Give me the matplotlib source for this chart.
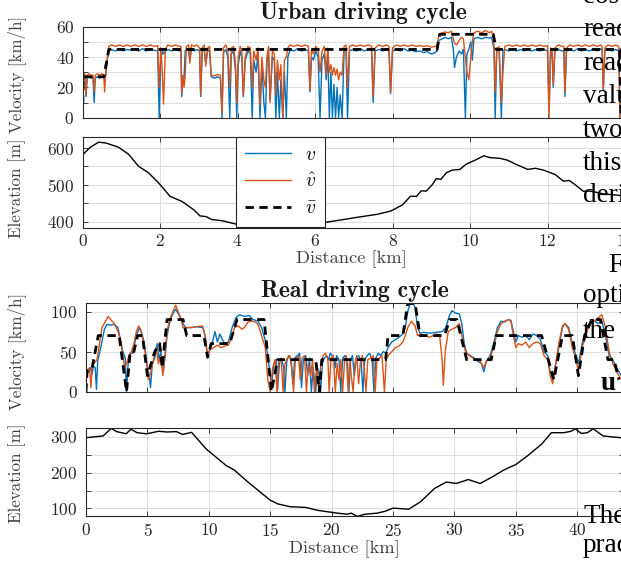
import numpy as np
import matplotlib
matplotlib.use("Agg")
import matplotlib.pyplot as plt
from matplotlib.ticker import MultipleLocator

plt.rcParams['font.family'] = ['cmr10']
plt.rcParams['mathtext.fontset'] = 'cm'
plt.rcParams['axes.formatter.use_mathtext'] = True

# ---------------- urban cycle ----------------
urban_km = [
    0.00, 0.02, 0.06, 0.09, 0.12, 0.17, 0.22, 0.27, 0.30, 0.33,
    0.38, 0.44, 0.50, 0.55, 0.57, 0.60, 0.64, 0.68, 0.75, 0.85,
    0.95, 1.05, 1.15, 1.25, 1.35, 1.45, 1.55, 1.65, 1.75, 1.85,
    1.94, 1.98, 2.02, 2.06, 2.09, 2.14, 2.20, 2.30, 2.40, 2.50,
    2.54, 2.56, 2.59, 2.62, 2.65, 2.68, 2.74, 2.77, 2.81, 2.88,
    2.95, 3.02, 3.05, 3.09, 3.14, 3.18, 3.23, 3.28, 3.32, 3.40,
    3.48, 3.56, 3.60, 3.64, 3.70, 3.75, 3.80, 3.84, 3.90, 3.95,
    3.98, 4.02, 4.07, 4.11, 4.15, 4.20, 4.27, 4.33, 4.38, 4.42,
    4.48, 4.53, 4.58, 4.63, 4.68, 4.72, 4.76, 4.80, 4.84, 4.90,
    4.95, 4.99, 5.03, 5.08, 5.12, 5.17, 5.21, 5.26, 5.30, 5.36,
    5.45, 5.55, 5.65, 5.75, 5.83, 5.87, 5.91, 5.96, 6.02, 6.08,
    6.13, 6.18, 6.24, 6.29, 6.33, 6.37, 6.41, 6.45, 6.49, 6.53,
    6.57, 6.61, 6.65, 6.70, 6.75, 6.80, 6.84, 6.89, 6.97, 7.07,
    7.17, 7.27, 7.37, 7.46, 7.50, 7.55, 7.65, 7.75, 7.85, 7.91,
    7.95, 8.00, 8.10, 8.20, 8.30, 8.40, 8.50, 8.60, 8.70, 8.80,
    8.90, 9.00, 9.10, 9.15, 9.20, 9.28, 9.36, 9.44, 9.52, 9.57,
    9.60, 9.65, 9.72, 9.78, 9.83, 9.88, 9.92, 9.97, 10.02, 10.06,
    10.10, 10.20, 10.30, 10.40, 10.50, 10.56, 10.62, 10.65, 10.69, 10.75,
    10.81, 10.85, 10.90, 11.00, 11.10, 11.20, 11.30, 11.40, 11.50, 11.60,
    11.70, 11.80, 11.90, 12.00, 12.04, 12.08, 12.12, 12.15, 12.19, 12.28,
    12.38, 12.42, 12.45, 12.49, 12.58, 12.68, 12.78, 12.88, 12.98, 13.08,
    13.18, 13.28, 13.38, 13.41, 13.44, 13.48, 13.56, 13.66, 13.76, 13.84,
    13.87,
]
urban_v = [
    0, 26, 27, 14, 26, 27, 26, 27, 10, 26,
    27, 26, 27, 26, 26, 28, 38, 44, 45, 44,
    45.5, 44, 45, 44.5, 45, 44, 45.5, 44, 45, 44.5,
    44, 0, 38, 44, 42, 44, 45, 44, 45.5, 44,
    44.5, 14, 27, 26, 44, 45, 44, 38, 45, 44,
    45, 44, 14, 44, 45, 36, 44, 44, 27, 26,
    27, 26, 0, 43, 45, 40, 0, 42, 44, 30,
    0, 35, 44, 40, 14, 38, 44, 42, 0, 38,
    30, 42, 0, 36, 10, 0, 36, 44, 12, 40,
    38, 0, 30, 0, 25, 0, 30, 0, 40, 45,
    44, 45.5, 44, 45, 44, 17, 40, 38, 44, 40,
    0, 38, 42, 25, 44, 0, 30, 0, 22, 0,
    20, 0, 15, 0, 44, 45, 0, 44, 45, 44,
    45.5, 44, 45, 44.5, 10, 44, 45, 44, 45, 44,
    16, 44, 45, 44, 45.5, 44, 44.5, 43.5, 44, 43,
    43.5, 42, 43, 44, 51, 52, 53, 52, 53, 45,
    33, 40, 44, 42, 45, 0, 42, 45, 50, 38,
    52, 53, 52, 53, 52.5, 53, 45, 0, 44, 45,
    0, 44, 45, 44, 45.5, 44, 45, 44, 45.5, 44,
    45, 44, 45, 44, 5, 44, 40, 20, 44, 45,
    44, 44, 14, 44, 45, 44, 45.5, 44, 45, 44,
    45, 44, 45.5, 44, 18, 44, 45, 44, 45, 44,
    0,
]
urban_vhat = [
    0, 28, 29, 15, 28, 29, 28, 28, 17, 28,
    29, 28, 29, 28, 17, 29, 40, 47, 48, 47,
    48, 47, 48, 47, 48, 47, 48, 47, 48, 47,
    47.5, 20, 46, 30, 9, 45, 48, 47, 48, 47,
    47, 16, 28, 20, 28, 47, 48, 36, 48, 47,
    48, 46, 15, 46, 48, 34, 46, 47, 28, 27.5,
    28.5, 28, 3, 46, 48, 44, 20, 46, 47, 35,
    10, 40, 47, 44, 15, 40, 47, 46, 20, 44,
    38, 46, 8, 40, 25, 20, 40, 47, 10, 44,
    42, 15, 38, 25, 35, 0, 38, 40, 46, 48,
    47, 48, 47, 48, 47, 18, 45, 42, 47, 45,
    30, 44, 47, 28, 46, 30, 35, 28, 33, 28,
    32, 25, 30, 28, 47, 48, 20, 47, 48, 47,
    48, 47, 48, 47, 14, 46, 48, 47, 48, 47,
    17, 46, 48, 47, 48, 47, 48, 47, 47.5, 47,
    47.5, 46.5, 47, 48, 55, 56, 56.5, 56, 57, 52,
    49, 48, 51, 53, 52, 40, 30, 25, 40, 50,
    56, 57, 56, 57.5, 56, 57, 48, 17, 45, 47,
    10, 30, 47, 48, 47, 48, 47, 48, 47, 48,
    47, 48, 47, 47.5, 0, 46, 44, 22, 46, 48,
    47, 47, 17, 46, 48, 47, 48, 47, 48, 47,
    48, 47, 48, 47, 19, 46, 48, 47, 48, 47,
    0,
]
urban_vbar_km = [0.0, 0.02, 0.55, 0.68, 9.15, 9.22, 10.60, 10.68, 13.86, 13.90]
urban_vbar = [0, 27, 27, 45, 45, 55, 55, 45, 45, 0]

urban_elev_km = [0.0, 0.2, 0.42, 0.62, 0.93, 1.19, 1.44, 1.7, 1.96, 2.26,
                 2.57, 2.88, 3.03, 3.19, 3.34, 3.6, 3.95, 4.3, 5.0, 5.6,
                 6.18, 6.67, 7.08, 7.59, 7.95, 8.1, 8.26, 8.46, 8.62, 8.74,
                 8.87, 9.03, 9.13, 9.25, 9.39, 9.54, 9.74, 9.9, 10.15, 10.36,
                 10.51, 10.77, 10.97, 11.18, 11.49, 11.69, 11.9, 12.2, 12.41, 12.56,
                 12.71, 12.92, 13.12, 13.43, 13.9]
urban_elev = [581, 602, 616, 613, 602, 583, 551, 533, 506, 469,
              455, 432, 416, 414, 406, 403, 394, 390, 388, 390,
              397, 405, 412, 420, 429, 437, 446, 469, 469, 484,
              483, 501, 517, 515, 533, 540, 542, 556, 568, 579,
              574, 572, 567, 556, 542, 545, 540, 528, 510, 512,
              501, 483, 483, 476, 471]

# ---------------- real cycle ----------------
real_v_km = [
    0.0, 0.1, 0.25, 0.4, 0.5, 0.6, 0.75, 0.85, 0.95, 1.2,
    1.5, 1.7, 2.0, 2.3, 2.6, 2.8, 3.0, 3.2, 3.3, 3.45,
    3.6, 3.8, 4.1, 4.35, 4.6, 4.8, 5.0, 5.15, 5.25, 5.4,
    5.6, 5.8, 5.95, 6.1, 6.3, 6.45, 6.6, 6.8, 7.0, 7.3,
    7.6, 7.9, 8.1, 8.5, 9.0, 9.5, 9.7, 9.9, 10.1, 10.3,
    10.5, 10.7, 10.9, 11.1, 11.3, 11.6, 11.9, 12.2, 12.5, 12.9,
    13.3, 13.6, 14.0, 14.3, 14.6, 14.8, 15.0, 15.1, 15.3, 15.5,
    15.6, 15.75, 15.9, 16.1, 16.2, 16.35, 16.5, 16.7, 16.85, 17.0,
    17.2, 17.4, 17.55, 17.7, 17.9, 18.05, 18.2, 18.35, 18.5, 18.7,
    18.85, 19.0, 19.1, 19.25, 19.4, 19.6, 19.75, 19.9, 20.05, 20.2,
    20.3, 20.4, 20.6, 20.75, 20.9, 21.1, 21.3, 21.4, 21.55, 21.7,
    21.85, 22.0, 22.2, 22.4, 22.55, 22.7, 22.9, 23.1, 23.3, 23.45,
    23.6, 23.8, 24.0, 24.2, 24.4, 24.6, 24.9, 25.2, 25.5, 25.8,
    26.0, 26.2, 26.4, 26.6, 26.8, 27.0, 27.2, 27.5, 28.0, 28.5,
    29.0, 29.3, 29.6, 29.8, 30.1, 30.4, 30.6, 30.8, 31.0, 31.3,
    31.6, 31.9, 32.2, 32.4, 32.6, 32.9, 33.2, 33.5, 33.8, 34.1,
    34.4, 34.6, 34.8, 35.0, 35.2, 35.5, 35.8, 36.1, 36.4, 36.7,
    37.0, 37.3, 37.6, 37.8, 38.0, 38.2, 38.5, 38.8, 39.0, 39.3,
    39.6, 39.9, 40.1, 40.4, 40.8, 41.1, 41.4, 41.7, 42.0, 42.3,
    42.6, 42.9, 43.2, 43.6,
]
real_v = [
    15, 27, 24, 30, 22, 32, 30, 3, 38, 55,
    78, 84, 83, 84, 80, 65, 50, 42, 0, 40,
    48, 48, 70, 80, 70, 55, 30, 20, 5, 35,
    42, 60, 40, 50, 25, 45, 70, 85, 95, 103,
    95, 85, 80, 80, 81, 80, 70, 43, 55, 62,
    75, 62, 72, 65, 60, 62, 80, 92, 96, 94,
    95, 90, 88, 80, 64, 45, 20, 8, 35, 40,
    2, 35, 42, 30, 0, 38, 45, 40, 10, 42,
    45, 48, 5, 40, 45, 20, 42, 0, 30, 0,
    30, 20, 0, 35, 42, 45, 40, 48, 45, 40,
    30, 45, 40, 0, 42, 45, 35, 0, 40, 45,
    20, 42, 45, 38, 0, 40, 45, 48, 40, 0,
    42, 48, 45, 50, 48, 55, 62, 65, 68, 72,
    80, 100, 110, 112, 105, 80, 73, 74, 73, 74,
    75, 80, 95, 101, 98, 97, 85, 60, 48, 45,
    42, 38, 35, 25, 38, 45, 60, 80, 88, 87,
    90, 89, 75, 62, 70, 68, 70, 65, 72, 70,
    65, 50, 45, 25, 15, 30, 55, 80, 85, 80,
    60, 45, 35, 60, 78, 86, 88, 85, 88, 70,
    45, 40, 30, 20,
]
real_vhat_km = [
    0.0, 0.1, 0.3, 0.4, 0.5, 0.65, 0.8, 0.9, 1.1, 1.3,
    1.6, 1.8, 2.0, 2.3, 2.6, 2.8, 3.0, 3.15, 3.3, 3.5,
    3.7, 3.9, 4.1, 4.3, 4.5, 4.7, 4.9, 5.1, 5.3, 5.5,
    5.7, 5.9, 6.1, 6.25, 6.45, 6.6, 6.8, 7.0, 7.3, 7.5,
    7.7, 7.9, 8.2, 8.6, 9.0, 9.5, 9.7, 9.9, 10.1, 10.4,
    10.7, 11.0, 11.3, 11.6, 11.9, 12.1, 12.4, 12.7, 12.9, 13.2,
    13.5, 13.8, 14.0, 14.2, 14.4, 14.6, 14.8, 15.0, 15.2, 15.4,
    15.55, 15.7, 15.9, 16.05, 16.2, 16.4, 16.6, 16.75, 16.9, 17.05,
    17.3, 17.45, 17.6, 17.8, 17.95, 18.1, 18.3, 18.45, 18.6, 18.8,
    18.95, 19.1, 19.3, 19.5, 19.7, 19.8, 19.95, 20.15, 20.3, 20.45,
    20.6, 20.75, 20.9, 21.05, 21.2, 21.35, 21.5, 21.6, 21.75, 21.9,
    22.05, 22.2, 22.35, 22.5, 22.65, 22.8, 22.95, 23.2, 23.4, 23.55,
    23.7, 23.9, 24.1, 24.3, 24.45, 24.6, 24.9, 25.2, 25.5, 25.8,
    26.0, 26.2, 26.5, 26.8, 27.0, 27.2, 27.5, 28.0, 28.5, 28.8,
    29.0, 29.1, 29.25, 29.5, 29.8, 30.1, 30.4, 30.6, 30.9, 31.2,
    31.5, 31.8, 32.1, 32.4, 32.6, 32.9, 33.2, 33.5, 33.8, 34.1,
    34.4, 34.6, 34.8, 35.0, 35.2, 35.5, 35.8, 36.1, 36.4, 36.7,
    37.0, 37.3, 37.6, 37.8, 38.0, 38.2, 38.5, 38.8, 39.0, 39.3,
    39.6, 39.9, 40.1, 40.4, 40.8, 41.1, 41.4, 41.7, 42.0, 42.3,
    42.6, 42.9, 43.2, 43.6,
]
real_vhat = [
    20, 27, 30, 5, 30, 35, 38, 40, 60, 80,
    88, 94, 90, 85, 75, 65, 45, 30, 35, 45,
    50, 60, 75, 82, 75, 60, 40, 15, 25, 40,
    55, 35, 45, 20, 50, 75, 90, 97, 108, 100,
    92, 80, 80, 80, 81, 82, 70, 45, 52, 55,
    58, 55, 57, 58, 70, 80, 82, 78, 80, 87,
    88, 87, 84, 75, 65, 55, 15, 0, 30, 40,
    0, 38, 40, 0, 35, 42, 45, 30, 0, 40,
    45, 15, 42, 45, 0, 35, 20, 40, 0, 35,
    0, 30, 45, 48, 40, 0, 42, 45, 0, 35,
    15, 40, 0, 38, 45, 0, 40, 20, 0, 35,
    45, 10, 38, 45, 30, 0, 40, 42, 45, 0,
    40, 42, 45, 0, 40, 45, 50, 55, 57, 62,
    70, 80, 88, 82, 70, 72, 70, 68, 72, 70,
    40, 8, 50, 75, 78, 80, 85, 70, 50, 45,
    42, 40, 38, 30, 38, 42, 55, 75, 85, 88,
    90, 88, 70, 55, 60, 58, 62, 55, 60, 62,
    60, 45, 40, 20, 10, 30, 60, 82, 85, 78,
    55, 40, 25, 55, 75, 90, 88, 92, 96, 80,
    50, 35, 25, 15,
]
real_vbar_km = [0.0, 0.1, 0.5, 1.0, 2.7, 3.3, 3.6, 3.9, 4.2, 4.6,
                5.0, 5.6, 6.0, 6.2, 6.6, 7.9, 8.2, 9.6, 9.9, 10.2,
                11.7, 12.3, 14.5, 15.1, 15.6, 18.7, 19.0, 19.2, 24.4, 24.6,
                25.8, 26.2, 26.8, 27.2, 29.2, 29.6, 30.2, 31.0, 33.0, 33.4,
                37.1, 38.1, 38.8, 39.6, 40.1, 40.6, 41.2, 41.9, 42.5, 43.0,
                43.4]
real_vbar = [0, 28, 30, 70, 70, 0, 50, 50, 70, 70,
             20, 50, 60, 30, 90, 90, 70, 70, 43, 60,
             60, 90, 90, 0, 40, 40, 0, 40, 40, 70,
             70, 110, 110, 70, 70, 90, 90, 40, 40, 70,
             70, 15, 70, 70, 20, 70, 90, 90, 40, 40,
             15]

real_elev_km = [0.0, 1.4, 2.05, 2.5, 3.27, 3.66, 4.15, 4.95, 5.92, 6.57,
                7.38, 7.86, 8.35, 8.6, 9.8, 11.42, 12.06, 13.19, 14.97, 15.6,
                16.6, 17.9, 18.85, 20.46, 21.27, 21.6, 22.08, 22.73, 23.7, 24.34,
                25.0, 26.28, 27.25, 28.38, 29.35, 30.16, 31.13, 32.1, 33.07, 34.04,
                35.0, 35.98, 37.1, 37.9, 38.9, 39.5, 39.85, 40.33, 40.82, 41.3,
                42.1, 42.9, 43.6]
real_elev = [298, 303, 324, 315, 309, 322, 312, 309, 316, 314,
             315, 307, 311, 313, 266, 220, 208, 174, 124, 113,
             105, 103, 95, 87, 84, 87, 78, 84, 87, 92,
             101, 98, 119, 156, 174, 170, 181, 170, 188, 208,
             223, 248, 280, 312, 312, 316, 323, 310, 312, 323,
             303, 300, 298]

legend_labels = [r'$v$', r'$\hat{v}$', r'$\bar{v}$']

# words of the surrounding paper column that show through on the right
paper_words = ['cost', 'reac', 'reac', 'valu', 'two', 'this', 'deri', 'F',
               'opti', 'the', 'u', 'The', 'prac']
paper_x = [583, 583, 583, 583, 583, 583, 583, 608, 583, 583, 601, 583, 583]
paper_y = [3, 36, 70, 103, 137, 170, 202, 272, 302, 338, 390, 523, 552]
paper_bold = [False] * 10 + [True, False, False]

BLUE = '#0072BD'
ORANGE = '#D95319'
W, H = 621, 563

fig = plt.figure(figsize=(W / 100, H / 100), dpi=100)


def rect(x0, x1, y0, y1):
    return [x0 / W, 1 - y1 / H, (x1 - x0) / W, (y1 - y0) / H]


def style(ax, xmaj, ymaj, ymin, xlabels):
    ax.xaxis.set_major_locator(MultipleLocator(xmaj))
    ax.yaxis.set_major_locator(MultipleLocator(ymaj))
    if ymin:
        ax.yaxis.set_minor_locator(MultipleLocator(ymin))
    ax.grid(True, which='both', color='#dedede', lw=0.7)
    ax.set_axisbelow(True)
    ax.tick_params(which='both', direction='in', length=3.5, width=0.6,
                   colors='#262626', labelsize=12.5, top=True, right=True, pad=6)
    ax.tick_params(axis='x', pad=4)
    if not xlabels:
        ax.tick_params(axis='x', labelbottom=False)
    for s in ax.spines.values():
        s.set_color('#262626')
        s.set_linewidth(0.8)


u_right = 82.5 + 14.5 * 38.75
r_right = 86.0 + 43.8 * 12.28

ax_uv = fig.add_axes(rect(82.5, u_right, 26.7, 117.7))
ax_ue = fig.add_axes(rect(82.5, u_right, 137.3, 227.7))
ax_rv = fig.add_axes(rect(86.0, r_right, 302.7, 391.7))
ax_re = fig.add_axes(rect(86.0, r_right, 427.7, 516.0))

l_v, = ax_uv.plot(urban_km, urban_v, color=BLUE, lw=1.0)
l_vh, = ax_uv.plot(urban_km, urban_vhat, color=ORANGE, lw=1.0)
l_vb, = ax_uv.plot(urban_vbar_km, urban_vbar, color='black', lw=2.0, ls=(0, (3, 2)))
ax_uv.set_xlim(0, 14.5)
ax_uv.set_ylim(0, 60)
style(ax_uv, 2, 20, 10, False)

ax_ue.plot(urban_elev_km, urban_elev, color='black', lw=1.0)
ax_ue.set_xlim(0, 14.5)
ax_ue.set_ylim(384, 629)
style(ax_ue, 2, 100, 50, True)

ax_rv.plot(real_v_km, real_v, color=BLUE, lw=1.0)
ax_rv.plot(real_vhat_km, real_vhat, color=ORANGE, lw=1.0)
ax_rv.plot(real_vbar_km, real_vbar, color='black', lw=2.0, ls=(0, (3, 2)))
ax_rv.set_xlim(0, 43.8)
ax_rv.set_ylim(0, 111)
style(ax_rv, 5, 50, None, False)

ax_re.plot(real_elev_km, real_elev, color='black', lw=1.0)
ax_re.set_xlim(0, 43.8)
ax_re.set_ylim(79, 326)
style(ax_re, 5, 100, 50, True)

leg = ax_ue.legend([l_v, l_vh, l_vb], legend_labels, loc='upper left',
                   bbox_to_anchor=(236 / W, 1 - 137.3 / H), bbox_transform=fig.transFigure,
                   fancybox=False, framealpha=1, edgecolor='#262626', fontsize=14,
                   handlelength=2.4, handletextpad=0.7, labelspacing=0.45,
                   borderpad=0.45, borderaxespad=0)
leg.get_frame().set_linewidth(0.8)

# titles / axis labels placed where the reference has them
fig.text(363 / W, 1 - 18.5 / H, 'Urban driving cycle', family='cmb10', fontsize=17,
         ha='center', va='baseline', color='#1a1a1a')
fig.text(355 / W, 1 - 297.5 / H, 'Real driving cycle', family='cmb10', fontsize=17,
         ha='center', va='baseline', color='#1a1a1a')
fig.text(351 / W, 1 - 263 / H, 'Distance [km]', fontsize=13.3, ha='center', va='baseline', color='#404040')
fig.text(344 / W, 1 - 553 / H, 'Distance [km]', fontsize=13.3, ha='center', va='baseline', color='#404040')
for yc, lab in [(74, 'Velocity [km/h]'), (188, 'Elevation [m]'),
                (351, 'Velocity [km/h]'), (473, 'Elevation [m]')]:
    fig.text(17 / W, 1 - yc / H, lab, fontsize=12.2, rotation=90,
             ha='center', va='center', color='#404040')

for w, x, y, b in zip(paper_words, paper_x, paper_y, paper_bold):
    fig.text(x / W, 1 - y / H, w, family='Liberation Serif', fontsize=19.5,
             weight='bold' if b else 'normal', ha='left', va='baseline',
             color='black', zorder=10)

fig.savefig('out.png', dpi=100)
